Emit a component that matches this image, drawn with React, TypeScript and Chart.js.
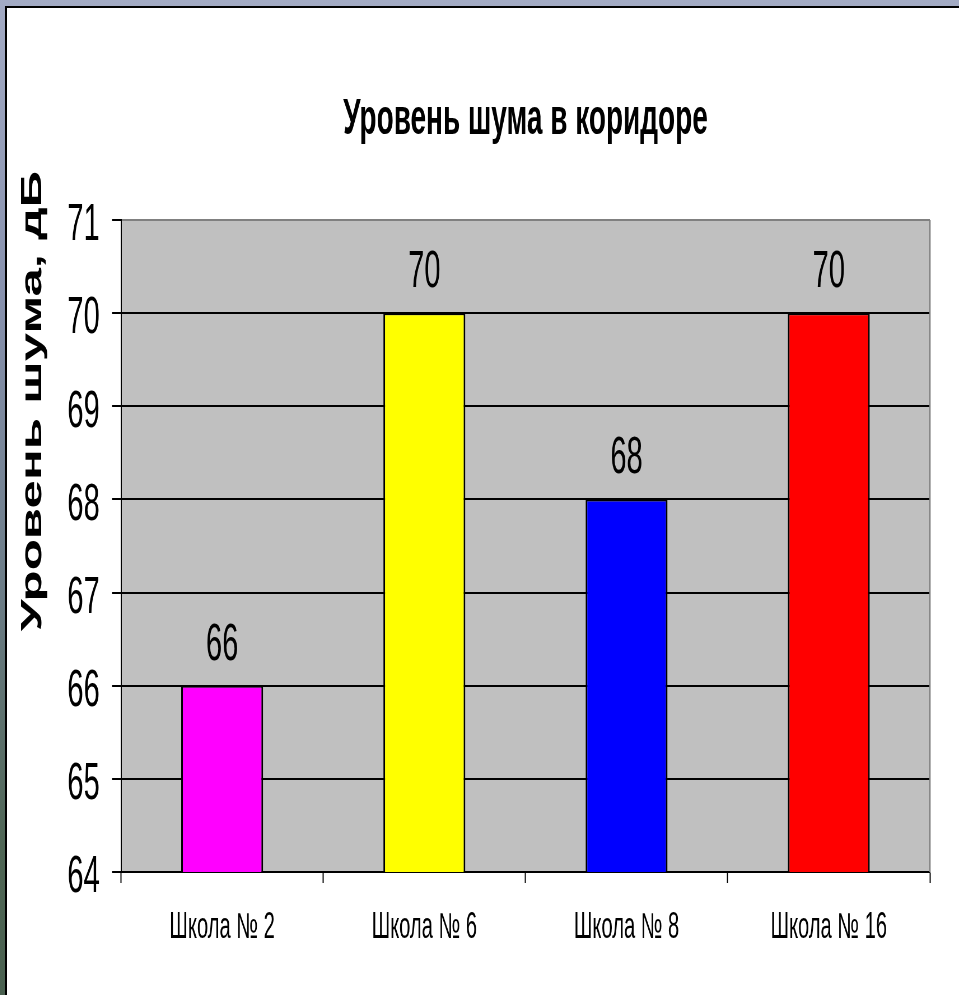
import React, { useEffect, useRef } from "react";
import { Chart, registerables } from "chart.js";

Chart.register(...registerables);

// ---- data ----
const categories = ["Школа № 2", "Школа № 6", "Школа № 8", "Школа № 16"];
const noiseLevels = [66, 70, 68, 70];
const barColors = ["#ff00ff", "#ffff00", "#0000ff", "#ff0000"];
const yTicks = [64, 65, 66, 67, 68, 69, 70, 71];
const chartTitle = "Уровень шума в коридоре";
const yAxisTitle = "Уровень шума, дБ";

// ---- layout ----
const SX = 0.56; // the reference is horizontally condensed
const CSS_W = 952;
const CSS_H = 987;
const W = Math.round(CSS_W / SX);
const FONT = '"Liberation Sans", Arial, sans-serif';
const NUM_FONT = '"Liberation Sans Narrow", "Arial Narrow", "Liberation Sans", Arial, sans-serif';

const plotFrame = {
  id: "plotFrame",
  beforeDraw(chart: any) {
    const { ctx, chartArea: a } = chart;
    ctx.save();
    ctx.fillStyle = "#c0c0c0";
    ctx.fillRect(a.left, a.top, a.right - a.left, a.bottom - a.top);
    ctx.restore();
  },
  afterDraw(chart: any) {
    const { ctx, chartArea: a } = chart;
    ctx.save();
    ctx.strokeStyle = "#808080";
    ctx.lineWidth = 2.6;
    ctx.beginPath();
    ctx.moveTo(a.right, a.top);
    ctx.lineTo(a.right, a.bottom);
    ctx.stroke();
    // y axis title
    ctx.fillStyle = "#000";
    ctx.translate(47, 393);
    ctx.rotate(-Math.PI / 2);
    ctx.font = `bold 51px ${FONT}`;
    ctx.textAlign = "center";
    ctx.textBaseline = "middle";
    ctx.fillText(yAxisTitle, 0, 0);
    ctx.restore();
  },
};

const valueLabels = {
  id: "valueLabels",
  afterDatasetsDraw(chart: any) {
    const { ctx } = chart;
    const meta = chart.getDatasetMeta(0);
    const data = chart.data.datasets[0].data;
    ctx.save();
    ctx.fillStyle = "#000";
    ctx.font = `52px ${NUM_FONT}`;
    ctx.textAlign = "center";
    ctx.textBaseline = "alphabetic";
    meta.data.forEach((bar: any, i: number) => {
      ctx.fillText(String(data[i]), bar.x, bar.y - 26);
    });
    ctx.restore();
  },
};

export default function App() {
  const ref = useRef<HTMLCanvasElement | null>(null);

  useEffect(() => {
    document.body.style.margin = "0";
    if (!ref.current) return;
    const chart = new Chart(ref.current, {
      type: "bar",
      data: {
        labels: categories,
        datasets: [
          {
            data: noiseLevels,
            backgroundColor: barColors,
            borderColor: "#000",
            borderWidth: { top: 2, left: 3, right: 3, bottom: 0 },
            borderSkipped: false,
            barPercentage: 0.405,
            categoryPercentage: 1,
          },
        ],
      },
      options: {
        responsive: false,
        devicePixelRatio: 1,
        animation: false,
        layout: { padding: { left: 0, right: 52, top: 0, bottom: 0 } },
        plugins: {
          legend: { display: false },
          tooltip: { enabled: false },
          title: {
            display: true,
            fullSize: false,
            text: chartTitle,
            color: "#000",
            font: { family: FONT, size: 50, weight: "bold" },
            padding: { top: 82, bottom: 70 },
          },
        },
        scales: {
          x: {
            offset: true,
            grid: {
              display: true,
              offset: true,
              drawOnChartArea: false,
              drawTicks: true,
              tickLength: 11,
              tickColor: "#000",
              tickWidth: 2,
            },
            border: { display: true, color: "#000", width: 2 },
            ticks: {
              color: "#000",
              font: { family: FONT, size: 36 },
              padding: 23,
              maxRotation: 0,
              autoSkip: false,
            },
            afterFit: (s: any) => {
              s.height = CSS_H - 864;
            },
          },
          y: {
            min: 64,
            max: 71,
            afterBuildTicks: (s: any) => {
              s.ticks = yTicks.map((v) => ({ value: v }));
            },
            ticks: {
              color: "#000",
              font: { family: NUM_FONT, size: 52 },
              padding: 22,
              labelOffset: 6,
            },
            grid: {
              color: (c: any) => (c.tick && c.tick.value === 71 ? "#808080" : "#000"),
              lineWidth: 2,
              drawTicks: true,
              tickLength: 16,
              tickColor: "#000",
              tickWidth: 2,
            },
            border: { display: true, color: "#000", width: 2 },
            afterFit: (s: any) => {
              s.width = 203.6;
            },
          },
        },
      },
      plugins: [plotFrame, valueLabels],
    });
    return () => chart.destroy();
  }, []);

  return (
    <div
      style={{
        position: "relative",
        width: 959,
        height: 995,
        overflow: "hidden",
        background:
          "linear-gradient(180deg, #a3abc4 0%, #8791ad 30%, #6b7c86 60%, #4f6655 85%, #4a6150 100%)",
      }}
    >
      <div
        style={{
          position: "absolute",
          left: 5,
          top: 6,
          right: 0,
          bottom: 0,
          borderLeft: "2px solid #000",
          borderTop: "2px solid #000",
          background: "#fff",
        }}
      >
        <canvas
          ref={ref}
          width={W}
          height={CSS_H}
          style={{ display: "block", width: CSS_W + "px", height: CSS_H + "px" }}
        />
      </div>
    </div>
  );
}
